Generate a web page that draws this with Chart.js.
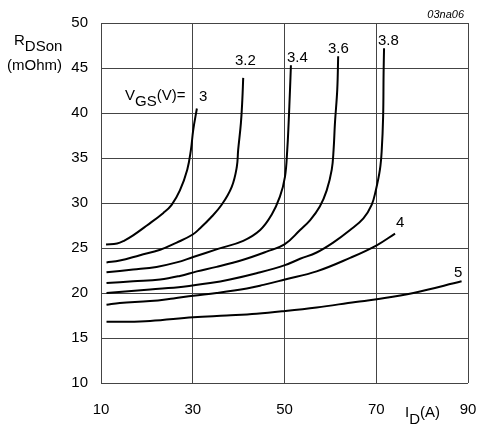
<!DOCTYPE html>
<html>
<head>
<meta charset="utf-8">
<script src="https://cdn.jsdelivr.net/npm/chart.js@4.4.0/dist/chart.umd.min.js"></script>
<style>
  html, body { margin: 0; padding: 0; background: #fff; }
  canvas { display: block; }
</style>
</head>
<body>
<canvas id="rdsChart" width="477" height="426"></canvas>
<script>
// Gate voltage of each curve (V)
const vgsLabels = ["3", "3.2", "3.4", "3.6", "3.8", "4", "5"];

// Drain current I_D (A) and on-resistance R_DSon (mOhm)
const idVgs3 = [11.1, 13.5, 15.0, 17.0, 20.0, 23.6, 25.4, 27.2, 28.8, 29.6, 30.1, 30.9];
const rdsVgs3 = [25.4, 25.5, 25.8, 26.4, 27.5, 28.9, 29.8, 31.4, 33.7, 35.9, 38.1, 40.5];

const idVgs32 = [11.2, 14.1, 18.5, 22.9, 26.5, 30.0, 31.6, 33.8, 36.3, 38.5, 39.6, 39.9, 40.5, 40.8, 41.0];
const rdsVgs32 = [23.4, 23.6, 24.2, 24.8, 25.6, 26.5, 27.2, 28.3, 29.8, 31.8, 34.0, 35.9, 38.9, 41.4, 43.9];

const idVgs34 = [11.2, 17.0, 22.1, 26.5, 30.1, 35.5, 41.0, 44.7, 47.2, 49.0, 50.1, 50.6, 50.9, 51.2, 51.4];
const rdsVgs34 = [22.3, 22.6, 22.9, 23.4, 24.0, 24.9, 25.8, 27.0, 28.7, 30.7, 32.9, 35.9, 38.9, 42.6, 45.3];

const idVgs36 = [11.2, 17.0, 22.9, 27.2, 30.9, 35.2, 41.0, 46.1, 50.0, 53.4, 55.6, 57.7, 59.2, 60.3, 60.7, 61.0, 61.5, 61.7];
const rdsVgs36 = [21.1, 21.3, 21.5, 21.9, 22.4, 22.9, 23.7, 24.6, 25.4, 27.0, 28.1, 29.6, 31.4, 33.7, 35.9, 38.9, 42.6, 46.3];

const idVgs38 = [11.2, 20.7, 27.9, 33.8, 38.1, 43.9, 50.1, 53.4, 57.0, 60.6, 64.3, 67.2, 69.0, 69.9, 70.8, 71.2, 71.5, 71.6, 71.7];
const rdsVgs38 = [20.0, 20.4, 20.7, 21.1, 21.5, 22.2, 23.1, 23.8, 24.5, 25.6, 27.0, 28.3, 29.8, 31.4, 33.7, 35.9, 39.6, 44.4, 47.2];

const idVgs4 = [11.2, 14.1, 20.7, 25.8, 30.1, 35.2, 41.8, 45.4, 50.1, 57.0, 64.3, 70.1, 74.1];
const rdsVgs4 = [18.7, 18.9, 19.1, 19.4, 19.7, 20.0, 20.5, 20.9, 21.5, 22.4, 23.9, 25.3, 26.6];

const idVgs5 = [11.2, 14.1, 20.7, 30.1, 37.4, 43.9, 50.1, 57.0, 65.5, 70.1, 78.1, 88.6];
const rdsVgs5 = [16.8, 16.8, 16.9, 17.3, 17.5, 17.7, 18.0, 18.4, 19.0, 19.3, 20.0, 21.3];

// Axis ticks
const xTicks = [10, 30, 50, 70, 90];
const yTicks = [10, 15, 20, 25, 30, 35, 40, 45, 50];

const curveIds = [idVgs3, idVgs32, idVgs34, idVgs36, idVgs38, idVgs4, idVgs5];
const curveRds = [rdsVgs3, rdsVgs32, rdsVgs34, rdsVgs36, rdsVgs38, rdsVgs4, rdsVgs5];

const fontFamily = "'Liberation Sans', Arial, Helvetica, sans-serif";

// Build one line dataset per gate voltage
const datasets = vgsLabels.map((vgs, i) => ({
    label: "VGS = " + vgs + " V",
    data: curveIds[i].map((id, j) => ({ x: id, y: curveRds[i][j] })),
    borderColor: "#000",
    borderWidth: 2,
    pointRadius: 0,
    fill: false,
    tension: 0.4
}));

// Text drawn on top of the plot: axis titles with subscripts and curve labels
function drawText(ctx, text, x, y, size, align) {
    ctx.font = size + "px " + fontFamily;
    ctx.textAlign = align || "left";
    ctx.fillText(text, x, y);
    return ctx.measureText(text).width;
}

const annotationPlugin = {
    id: "annotations",
    afterDraw(chart) {
        const ctx = chart.ctx;
        ctx.save();
        ctx.fillStyle = "#000";
        ctx.textBaseline = "alphabetic";

        // y axis title
        let w = drawText(ctx, "R", 14, 45, 15);
        drawText(ctx, "DSon", 14 + w, 51, 15);
        drawText(ctx, "(mOhm)", 7, 70, 15);

        // x axis title
        w = drawText(ctx, "I", 405, 417, 15);
        const wd = drawText(ctx, "D", 405 + w, 424, 15);
        drawText(ctx, "(A)", 405 + w + wd, 417, 15);

        // gate voltage legend
        w = drawText(ctx, "V", 125, 100, 15);
        const wg = drawText(ctx, "GS", 125 + w, 106, 15);
        drawText(ctx, "(V)=", 125 + w + wg, 100, 15);

        // curve labels
        drawText(ctx, vgsLabels[0], 199, 101, 15);
        drawText(ctx, vgsLabels[1], 235, 65, 15);
        drawText(ctx, vgsLabels[2], 287, 62, 15);
        drawText(ctx, vgsLabels[3], 328, 53, 15);
        drawText(ctx, vgsLabels[4], 378, 45, 15);
        drawText(ctx, vgsLabels[5], 396, 227, 15);
        drawText(ctx, vgsLabels[6], 454, 277, 15);

        // figure reference
        ctx.font = "italic 11px " + fontFamily;
        ctx.textAlign = "right";
        ctx.fillText("03na06", 464, 18);
        ctx.restore();
    }
};

new Chart(document.getElementById("rdsChart"), {
    type: "line",
    data: { datasets: datasets },
    options: {
        responsive: false,
        animation: false,
        events: [],
        layout: { padding: { top: 23, right: 9, left: 0, bottom: 0 } },
        plugins: {
            legend: { display: false },
            tooltip: { enabled: false }
        },
        scales: {
            x: {
                type: "linear",
                min: 10,
                max: 90,
                afterBuildTicks: scale => { scale.ticks = xTicks.map(v => ({ value: v })); },
                afterFit: scale => {
                    scale.height = 43;
                    scale.paddingLeft = 0;
                    scale.paddingRight = 0;
                },
                grid: { color: "#444", lineWidth: 1, drawTicks: false },
                border: { display: false },
                ticks: {
                    padding: 18,
                    color: "#000",
                    maxRotation: 0,
                    autoSkip: false,
                    font: { family: fontFamily, size: 15 }
                }
            },
            y: {
                type: "linear",
                min: 10,
                max: 50,
                afterBuildTicks: scale => { scale.ticks = yTicks.map(v => ({ value: v })); },
                afterFit: scale => {
                    scale.width = 101;
                    scale.paddingTop = 0;
                    scale.paddingBottom = 0;
                },
                grid: { color: "#444", lineWidth: 1, drawTicks: false },
                border: { display: false },
                ticks: {
                    padding: 13,
                    color: "#000",
                    autoSkip: false,
                    font: { family: fontFamily, size: 15 }
                }
            }
        }
    },
    plugins: [annotationPlugin]
});
</script>
</body>
</html>
